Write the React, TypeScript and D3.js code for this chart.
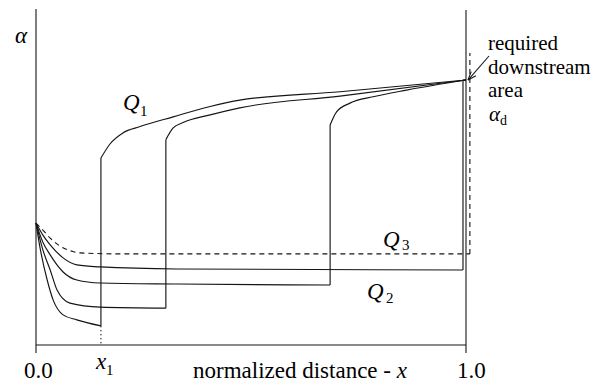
import React from "react";
import * as d3 from "d3";

type Pt = [number, number];

// Normalized distance x (0..1) and channel area α (arbitrary units, 0..1 of the axis height)
const q1Lower: Pt[] = [[0, 0.364], [0.009, 0.293], [0.026, 0.194], [0.04, 0.134], [0.063, 0.09], [0.095, 0.075], [0.151, 0.057]];
const q1Upper: Pt[] = [[0.151, 0.558], [0.172, 0.6], [0.202, 0.633], [0.242, 0.652], [0.319, 0.681], [0.405, 0.712], [0.474, 0.731], [0.707, 0.756], [1, 0.791]];

const bLower: Pt[] = [[0, 0.364], [0.016, 0.284], [0.033, 0.224], [0.049, 0.164], [0.079, 0.125], [0.149, 0.113], [0.302, 0.11]];
const bUpper: Pt[] = [[0.302, 0.613], [0.319, 0.648], [0.342, 0.664], [0.405, 0.687], [0.474, 0.708], [0.707, 0.743], [1, 0.791]];

const cLower: Pt[] = [[0, 0.364], [0.016, 0.307], [0.033, 0.269], [0.063, 0.218], [0.095, 0.194], [0.149, 0.185], [0.328, 0.182], [0.684, 0.179]];
const cUpper: Pt[] = [[0.684, 0.657], [0.699, 0.696], [0.73, 0.722], [0.784, 0.741], [0.862, 0.761], [1, 0.791]];

const q2Lower: Pt[] = [[0, 0.364], [0.016, 0.328], [0.033, 0.299], [0.063, 0.26], [0.095, 0.239], [0.149, 0.233], [0.328, 0.227], [0.993, 0.224]];
const q2Upper: Pt[] = [[0.993, 0.791], [1, 0.791]];

const q3Lower: Pt[] = [[0, 0.364], [0.016, 0.343], [0.033, 0.319], [0.063, 0.29], [0.086, 0.279], [0.102, 0.275], [0.195, 0.272], [1.009, 0.272]];
const q3Top = 0.872;

const x1Value = 0.151;
const alphaD = 0.791;

const noteLines = ["required", "downstream", "area"];

const solidSeries = [
  { lower: q1Lower, upper: q1Upper },
  { lower: bLower, upper: bUpper },
  { lower: cLower, upper: cUpper },
  { lower: q2Lower, upper: q2Upper },
];

const W = 616;
const H = 383;
const INK = "#151515";
const FONT = "Liberation Serif, Times New Roman, DejaVu Serif, serif";

export default function App() {
  const x = d3.scaleLinear().domain([0, 1]).range([36, 466]);
  const y = d3.scaleLinear().domain([0, 1]).range([345, 10]);

  const curve = d3
    .line<Pt>()
    .x((d) => x(d[0]))
    .y((d) => y(d[1]))
    .curve(d3.curveMonotoneX);

  const jump = (a: Pt, b: Pt) => `M${x(a[0])},${y(a[1])}L${x(b[0])},${y(b[1])}`;

  // arrow pointing at the required downstream area
  const ax0 = 489, ay0 = 56;
  const ax1 = x(1) + 2, ay1 = y(alphaD);
  const ang = Math.atan2(ay1 - ay0, ax1 - ax0);
  const ah = 9;
  const head = [ang + Math.PI - 0.35, ang + Math.PI + 0.35]
    .map((a) => `M${ax1},${ay1}L${ax1 + ah * Math.cos(a)},${ay1 + ah * Math.sin(a)}`)
    .join("");

  const q3End = q3Lower[q3Lower.length - 1];
  const noteStep = 23.5;

  return (
    <svg width={W} height={H} style={{ position: "absolute", left: 0, top: 0, background: "#fff" }}>
      {/* frame */}
      <g stroke={INK} strokeWidth={1.1} fill="none">
        <line x1={x(0)} x2={x(0)} y1={y(1) - 1} y2={y(0) + 8} />
        <line x1={x(1)} x2={x(1)} y1={y(1)} y2={y(0) + 8} />
        <line x1={x(0)} x2={x(1)} y1={y(0)} y2={y(0)} />
      </g>

      {/* solid profiles: lower branch, hydraulic jump, upper branch */}
      <g stroke={INK} strokeWidth={1.15} fill="none">
        {solidSeries.map((s, i) => (
          <g key={i}>
            <path d={curve(s.lower) || ""} />
            <path d={jump(s.lower[s.lower.length - 1], s.upper[0])} />
            <path d={curve(s.upper) || ""} />
          </g>
        ))}
      </g>

      {/* Q3 profile (dashed) */}
      <g stroke={INK} strokeWidth={1.1} fill="none" strokeDasharray="5,4">
        <path d={curve(q3Lower) || ""} />
        <path d={jump(q3End, [q3End[0], q3Top])} />
      </g>

      {/* x1 marker */}
      <line
        x1={x(x1Value)}
        x2={x(x1Value)}
        y1={y(q1Lower[q1Lower.length - 1][1])}
        y2={y(0)}
        stroke={INK}
        strokeWidth={1}
        strokeDasharray="1.5,2.5"
      />

      {/* arrow */}
      <g stroke={INK} strokeWidth={1.1} fill="none">
        <line x1={ax0} y1={ay0} x2={ax1} y2={ay1} />
        <path d={head} />
      </g>

      <g fill="#000" style={{ fontFamily: FONT, fontSize: "23px" }}>
        <text x={15} y={43} style={{ fontStyle: "italic" }}>α</text>

        <text x={123} y={110} style={{ fontStyle: "italic" }}>Q</text>
        <text x={140} y={116} style={{ fontSize: "15px" }}>1</text>

        <text x={367} y={299} style={{ fontStyle: "italic" }}>Q</text>
        <text x={386} y={303} style={{ fontSize: "15px" }}>2</text>

        <text x={383} y={247} style={{ fontStyle: "italic" }}>Q</text>
        <text x={402} y={250} style={{ fontSize: "15px" }}>3</text>

        <text x={96} y={369} style={{ fontStyle: "italic" }}>x</text>
        <text x={106} y={375} style={{ fontSize: "15px" }}>1</text>

        <text x={24} y={378}>0.0</text>
        <text x={457} y={378}>1.0</text>
        <text x={193} y={378}>
          normalized distance - <tspan style={{ fontStyle: "italic" }}>x</tspan>
        </text>

        {noteLines.map((t, i) => (
          <text key={t} x={488} y={50 + i * noteStep} style={{ fontSize: "21px" }}>{t}</text>
        ))}
        <text x={489} y={50 + 3 * noteStep} style={{ fontStyle: "italic", fontSize: "21px" }}>α</text>
        <text x={500} y={54 + 3 * noteStep} style={{ fontSize: "14px" }}>d</text>
      </g>
    </svg>
  );
}
